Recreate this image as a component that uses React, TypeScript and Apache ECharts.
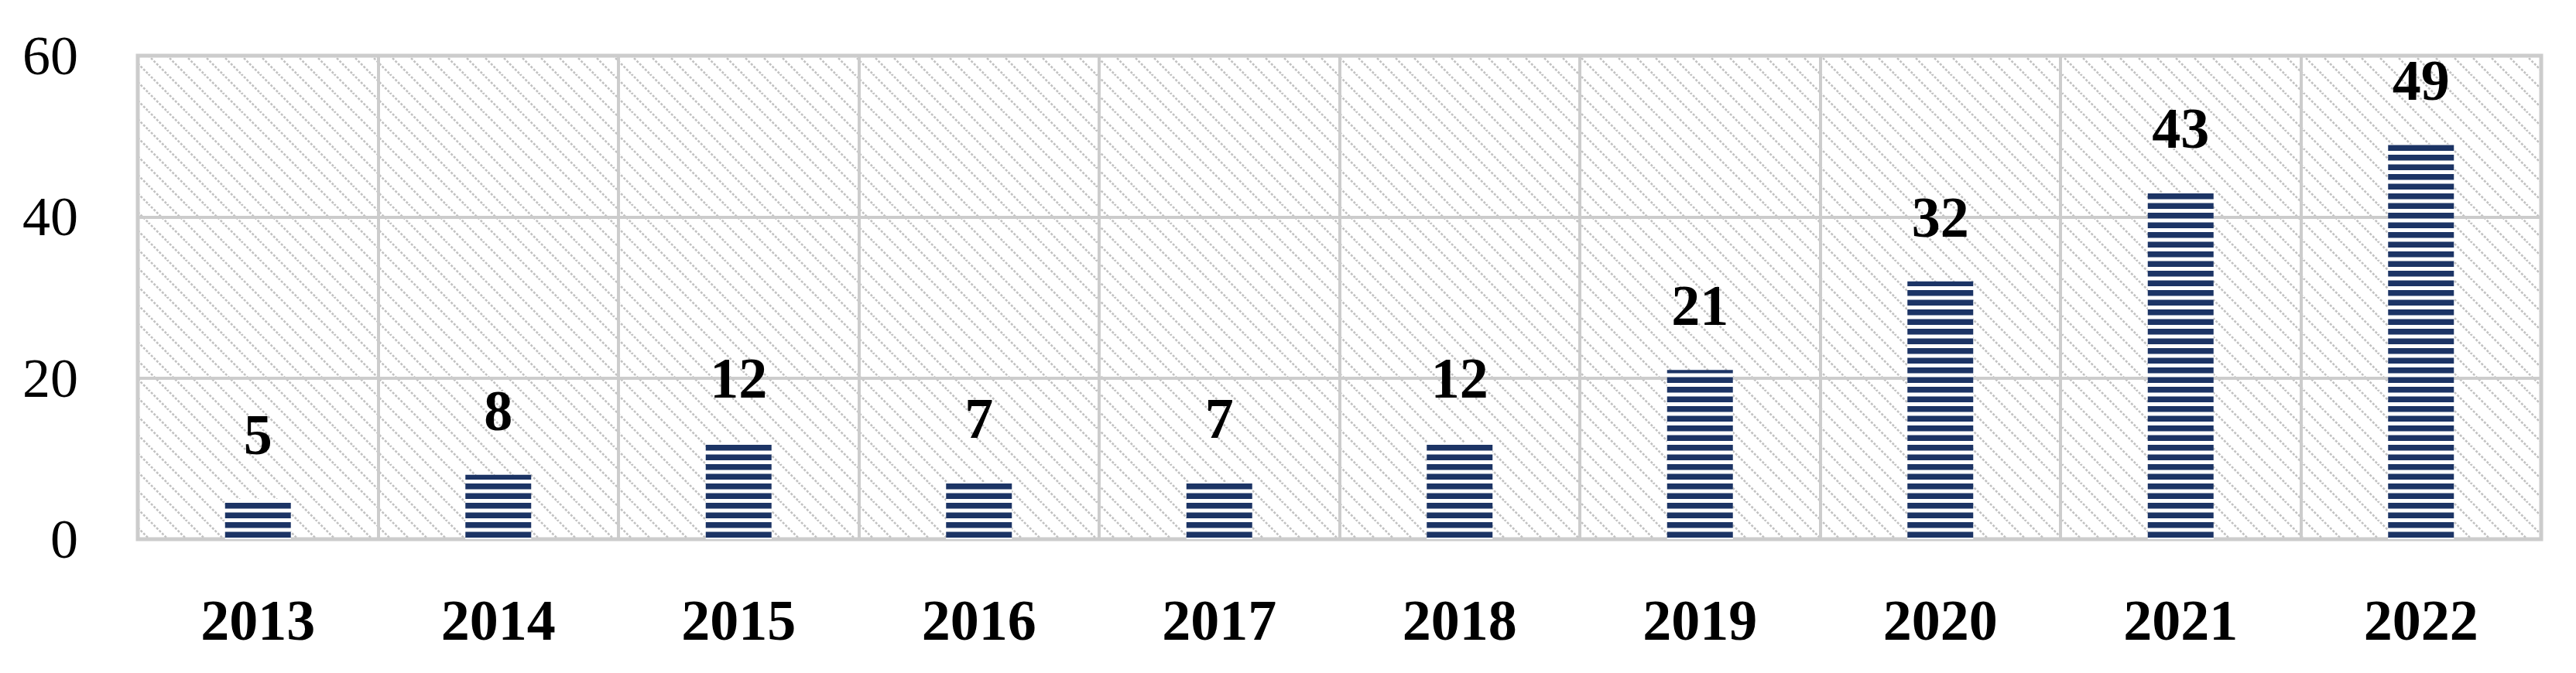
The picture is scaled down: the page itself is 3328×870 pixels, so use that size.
import React, { useEffect, useRef } from "react";
import * as echarts from "echarts";

const categories = ["2013", "2014", "2015", "2016", "2017", "2018", "2019", "2020", "2021", "2022"];
const values = [5, 8, 12, 7, 7, 12, 21, 32, 43, 49];
const yMin = 0;
const yMax = 60;
const yInterval = 20;

function makeStripeCanvas(): HTMLCanvasElement {
  const c = document.createElement("canvas");
  c.width = 8;
  c.height = 25;
  const ctx = c.getContext("2d")!;
  ctx.fillStyle = "#ffffff";
  ctx.fillRect(0, 0, 8, 25);
  ctx.fillStyle = "#1c3465";
  ctx.fillRect(0, 0, 8, 7.5);
  ctx.fillRect(0, 12.5, 8, 7.5);
  return c;
}

function makeHatchCanvas(): HTMLCanvasElement {
  const s = 24;
  const c = document.createElement("canvas");
  c.width = s;
  c.height = s;
  const ctx = c.getContext("2d")!;
  ctx.fillStyle = "#ffffff";
  ctx.fillRect(0, 0, s, s);
  ctx.strokeStyle = "#c2c2c2";
  ctx.lineWidth = 2.6;
  ctx.setLineDash([3, 2]);
  const seg = (x0: number, y0: number, x1: number, y1: number) => {
    ctx.beginPath();
    ctx.moveTo(x0, y0);
    ctx.lineTo(x1, y1);
    ctx.stroke();
  };
  seg(-4, -4, s + 4, s + 4);
  seg(-s - 4, -4, 4, s + 4);
  seg(s - 4, -4, 2 * s + 4, s + 4);
  return c;
}

export default function App() {
  const ref = useRef<HTMLDivElement>(null);

  useEffect(() => {
    if (!ref.current) return;
    const chart = echarts.init(ref.current, undefined, { renderer: "svg" });
    const stripe = makeStripeCanvas();
    const hatch = makeHatchCanvas();
    const font = "'Liberation Serif', 'Times New Roman', serif";
    const gridColor = "#cccccc";

    chart.setOption({
      animation: false,
      grid: {
        left: 178,
        right: 45,
        top: 72,
        bottom: 173,
        show: true,
        backgroundColor: { image: hatch, repeat: "repeat", imageWidth: 24, imageHeight: 24 } as any,
        borderColor: gridColor,
        borderWidth: 5,
      },
      xAxis: {
        type: "category",
        data: categories,
        axisLine: { show: false },
        axisTick: { show: false },
        splitLine: { show: true, interval: 0, lineStyle: { color: gridColor, width: 4 } },
        axisLabel: {
          interval: 0,
          margin: 68,
          fontSize: 74,
          fontWeight: "bold",
          fontFamily: font,
          color: "#000",
        },
      },
      yAxis: {
        type: "value",
        min: yMin,
        max: yMax,
        interval: yInterval,
        axisLine: { show: false },
        axisTick: { show: false },
        splitLine: { show: true, lineStyle: { color: gridColor, width: 4 } },
        axisLabel: {
          margin: 77,
          fontSize: 72,
          fontFamily: font,
          color: "#000",
        },
      },
      series: [
        {
          type: "bar",
          data: values,
          barWidth: 85,
          itemStyle: {
            color: { image: stripe, repeat: "repeat", imageWidth: 8, imageHeight: 25 } as any,
          },
          label: {
            show: true,
            position: "top",
            distance: 46,
            fontSize: 74,
            fontWeight: "bold",
            fontFamily: font,
            color: "#000",
          },
        },
      ],
    });
    return () => chart.dispose();
  }, []);

  return (
    <div
      ref={ref}
      style={{ position: "fixed", left: 0, top: 0, width: 3328, height: 870, background: "#fff" }}
    />
  );
}
